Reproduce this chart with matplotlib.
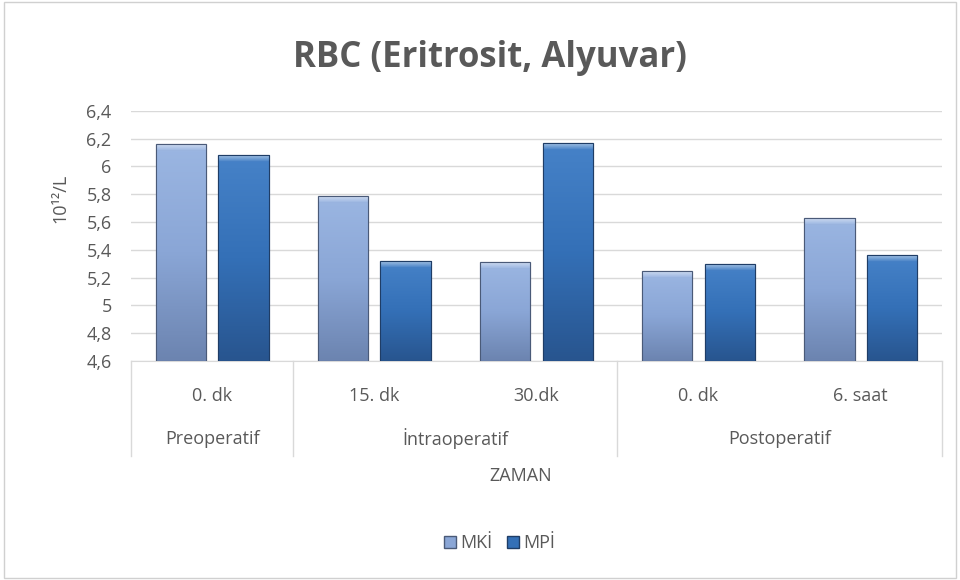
import matplotlib.pyplot as plt
import numpy as np
from matplotlib.colors import LinearSegmentedColormap
from matplotlib.patches import Rectangle, Patch

plt.rcParams['font.family'] = ['Open Sans', 'DejaVu Sans']

# veriler
zaman = ['0. dk', '15. dk', '30.dk', '0. dk', '6. saat']
gruplar = ['Preoperatif', 'İntraoperatif', 'Postoperatif']
grup_boyu = [1, 2, 2]
mki = [6.16, 5.79, 5.31, 5.25, 5.63]
mpi = [6.08, 5.32, 6.17, 5.30, 5.36]
y_ticks = [4.6, 4.8, 5.0, 5.2, 5.4, 5.6, 5.8, 6.0, 6.2, 6.4]
y_labels = ['4,6', '4,8', '5', '5,2', '5,4', '5,6', '5,8', '6', '6,2', '6,4']

gri = '#595959'
fig = plt.figure(figsize=(9.6, 5.8), dpi=100)
fig.patches.append(Rectangle((0.004, 0.004), 0.992, 0.992, transform=fig.transFigure,
                             fill=False, edgecolor='#d0d0d0', linewidth=1))
ax = fig.add_axes([0.1365, 0.3776, 0.8445, 0.4314])

x = np.arange(len(zaman))
w = 0.31
ofs = 0.193

renk_mki = LinearSegmentedColormap.from_list('mki', ['#6c84b0', '#8aa6d6', '#9bb6e2'])
renk_mpi = LinearSegmentedColormap.from_list('mpi', ['#28558f', '#3470b7', '#4682c8'])

def ciz(xs, vals, cmap, kenar):
    bars = ax.bar(xs, np.array(vals) - 4.6, w, bottom=4.6, color=cmap(0.6),
                  edgecolor=kenar, linewidth=0.8, zorder=3)
    grad = np.linspace(0, 1, 100).reshape(-1, 1)
    parlak = np.linspace(0, 1, 20).reshape(-1, 1)
    for b in bars:
        x0, y0 = b.get_x(), b.get_y()
        x1, y1 = x0 + b.get_width(), y0 + b.get_height()
        im = ax.imshow(grad, extent=[x0, x1, y0, y1], origin='lower', aspect='auto',
                       cmap=cmap, zorder=3.5)
        im.set_clip_path(b)
        # ust parlak bant (bevel)
        bh = 0.05
        im2 = ax.imshow(parlak, extent=[x0, x1, y1 - bh, y1], origin='lower', aspect='auto',
                        cmap='Greys_r', alpha=parlak * 0.5, vmin=0, vmax=0.01, zorder=4)
        im2.set_clip_path(b)
        ax.add_patch(Rectangle((x0, y0), b.get_width(), b.get_height(), facecolor='none',
                               edgecolor=kenar, linewidth=0.8, zorder=5))
    return bars

ciz(x - ofs, mki, renk_mki, '#4a5a78')
ciz(x + ofs, mpi, renk_mpi, '#1f3d66')

ax.set_xlim(-0.5, len(zaman) - 0.5)
ax.set_ylim(4.6, 6.4)
ax.set_yticks(y_ticks)
ax.set_yticklabels(y_labels, fontsize=13, color=gri)
ax.tick_params(axis='y', length=0, pad=14)
ax.set_xticks([])
ax.grid(axis='y', color='#d9d9d9', linewidth=1, zorder=0)
for s in ['top', 'right', 'left']:
    ax.spines[s].set_visible(False)
ax.spines['bottom'].set_color('#d9d9d9')
ax.set_ylabel('10¹²/L', fontsize=13, color=gri)
ax.yaxis.set_label_coords(-0.076, 0.65)

tr = ax.get_xaxis_transform()
for i, z in enumerate(zaman):
    ax.text(i, -0.138, z, transform=tr, ha='center', va='center', fontsize=13, color=gri)
bas = 0
sinirlar = [-0.5]
for g, n in zip(gruplar, grup_boyu):
    ax.text(bas + n / 2 - 0.5, -0.31, g, transform=tr, ha='center', va='center',
            fontsize=13, color=gri)
    bas += n
    sinirlar.append(bas - 0.5)
for s in sinirlar:
    ax.plot([s, s], [0, -0.378], transform=tr, color='#d9d9d9', linewidth=1, clip_on=False)

fig.text(0.542, 0.18, 'ZAMAN', ha='center', va='center', fontsize=13, color=gri)
fig.text(0.51, 0.9, 'RBC (Eritrosit, Alyuvar)', ha='center', va='center',
         fontsize=25, fontweight='bold', color=gri)

handles = [Patch(facecolor='#8aa6d6', edgecolor='#4a5a78'),
           Patch(facecolor='#3470b7', edgecolor='#1f3d66')]
fig.legend(handles, ['MKİ', 'MPİ'], loc='center', bbox_to_anchor=(0.52, 0.063), ncol=2,
           frameon=False, fontsize=13, handlelength=0.7, handleheight=0.7,
           handletextpad=0.2, columnspacing=0.8, labelcolor=gri)

fig.savefig('out.png', dpi=100)
